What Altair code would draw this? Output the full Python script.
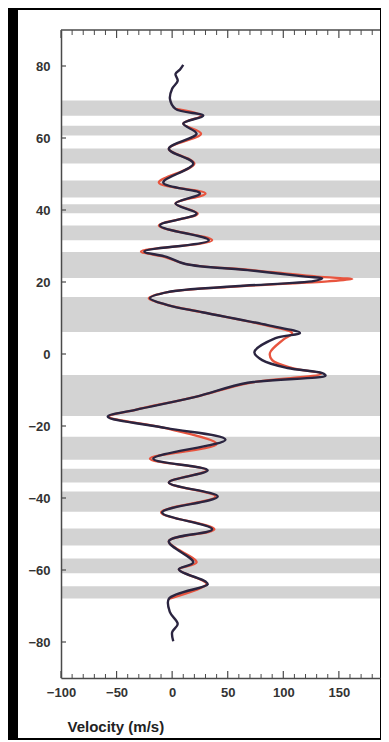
import altair as alt
import pandas as pd

# ---- data ----
lat_black = [80.3, 79.0, 77.8, 75.9, 73.7, 70.9, 68.1, 66.2, 64.0, 61.2, 57.0, 52.9,
             47.6, 44.6, 41.8, 39.0, 35.7, 31.6, 28.5, 27.0, 25.0, 23.3, 21.5, 21.0,
             20.3, 18.8, 17.2, 15.5, 13.6, 11.6, 8.0, 5.8, 4.4, 0.5, -1.7, -3.9, -5.3,
             -6.0, -8.0, -11.9, -15.5, -17.4, -20.6, -23.8, -29.1, -32.3, -35.7, -39.6,
             -44.0, -48.7, -52.0, -57.9, -59.8, -63.2, -64.0, -68.0, -71.7, -75.0,
             -77.3, -79.8]
vel_black = [10, 7, 3, 5, 0, -2, 3, 28, 10, 22, -3, 19,
             -8, 25, 3, 22, -11, 33, -25, -5, 12, 68, 120, 135,
             128, 57, -4, -20, -4, 27, 86, 115, 93, 74, 81, 104, 135,
             138, 68, 21, -33, -58, -5, 48, -17, 32, -3, 41,
             -9, 36, -3, 19, 6, 30, 32, -3, -2, 5,
             0, 1]

lat_red = [68.1, 66.2, 64.0, 61.2, 57.0, 52.9, 47.6, 44.6, 41.8, 39.0, 35.7, 31.6, 28.5,
           27.0, 25.0, 23.3, 21.5, 20.8, 20.2, 18.8, 17.2, 15.5, 13.6, 11.6, 8.0,
           5.8, 4.0, 0.3, -1.7, -3.9, -5.5, -8.0, -11.9, -15.5, -17.4, -20.6, -25.0,
           -29.1, -32.3, -35.7, -39.6, -44.0, -48.7, -52.0, -57.9, -59.8, -63.2, -64.0,
           -68.0]
vel_red = [3, 26, 10, 26, -3, 20, -12, 30, 3, 23, -12, 36, -28,
           -7, 12, 72, 130, 162, 140, 60, -4, -21, -4, 27, 84,
           108, 100, 88, 90, 108, 134, 70, 21, -33, -57, -6, 40,
           -20, 31, -3, 39, -10, 38, -3, 22, 6, 29, 31, -3]

band_lo = [66.2, 60.7, 52.9, 43.5, 39.1, 31.6, 21.1, 6.1, -17.2, -29.4, -35.7,
           -43.8, -53.2, -60.9, -67.9]
band_hi = [70.4, 63.4, 57.1, 48.2, 41.6, 35.7, 28.3, 15.8, -5.8, -23.0, -31.9,
           -38.2, -48.5, -56.8, -64.5]

x_major = [-100, -50, 0, 50, 100, 150]
x_minor = [-90, -80, -70, -60, -40, -30, -20, -10, 10, 20, 30, 40, 60, 70, 80, 90,
           110, 120, 130, 140, 160, 170, 180]
y_major = [-80, -60, -40, -20, 0, 20, 40, 60, 80]

# ---- layout ----
W, H = 319, 648
FONT = "Liberation Sans"
AX = "#4a4a4a"

xscale = alt.Scale(domain=[-100, 187], nice=False, zero=False)
yscale = alt.Scale(domain=[-90, 90], nice=False, zero=False)

xaxis = alt.Axis(values=x_major, format="d", ticks=False, grid=False, zindex=2,
                 domainColor=AX, domainWidth=1.5, labelFlush=False, labelOverlap=False,
                 labelFont=FONT, labelFontWeight="bold", labelFontSize=13,
                 labelColor="#333333", labelPadding=8,
                 title="Velocity (m/s)", titleFont=FONT, titleFontSize=15,
                 titleFontWeight="bold", titleColor="#222222", titleAlign="left",
                 titleX=6, titleY=48, titleBaseline="middle")
yaxis = alt.Axis(values=y_major, format="d", ticks=False, grid=False, zindex=2,
                 domainColor=AX, domainWidth=1.5, labelFlush=False, labelOverlap=False,
                 labelFont=FONT, labelFontWeight="bold", labelFontSize=13,
                 labelColor="#333333", labelPadding=11, title=None)

one = pd.DataFrame({"a": [0]})
panel = alt.Chart(one).mark_rect(color="white", clip=False).encode(
    x=alt.value(-43), x2=alt.value(W), y=alt.value(-20), y2=alt.value(708))

bands_df = pd.DataFrame({"lo": band_lo, "hi": band_hi})
bands = alt.Chart(bands_df).mark_rect(color="#d3d3d3").encode(
    y=alt.Y("lo:Q", scale=yscale, axis=yaxis), y2="hi:Q",
    x=alt.value(0), x2=alt.value(W))

red_df = pd.DataFrame({"lat": lat_red, "v": vel_red})
red = alt.Chart(red_df).mark_line(color="#e8553f", strokeWidth=2.3,
                                   interpolate="catmull-rom").encode(
    x=alt.X("v:Q", scale=xscale, axis=xaxis),
    y=alt.Y("lat:Q", scale=yscale), order="lat:Q")

blk_df = pd.DataFrame({"lat": lat_black, "v": vel_black})
blk = alt.Chart(blk_df).mark_line(color="#2b2540", strokeWidth=2.4,
                                   interpolate="catmull-rom").encode(
    x=alt.X("v:Q", scale=xscale), y=alt.Y("lat:Q", scale=yscale), order="lat:Q")

maj_df = pd.DataFrame({"t": x_major})
min_df = pd.DataFrame({"t": x_minor})
tick_b_maj = alt.Chart(maj_df).mark_rule(color=AX, strokeWidth=1.2).encode(
    x=alt.X("t:Q", scale=xscale), y=alt.value(H), y2=alt.value(H - 7))
tick_b_min = alt.Chart(min_df).mark_rule(color=AX, strokeWidth=1).encode(
    x=alt.X("t:Q", scale=xscale), y=alt.value(H), y2=alt.value(H - 4))
tick_t_maj = alt.Chart(maj_df).mark_rule(color=AX, strokeWidth=1.2).encode(
    x=alt.X("t:Q", scale=xscale), y=alt.value(0), y2=alt.value(8))
tick_t_min = alt.Chart(min_df).mark_rule(color=AX, strokeWidth=1).encode(
    x=alt.X("t:Q", scale=xscale), y=alt.value(0), y2=alt.value(5))
top_line = alt.Chart(one).mark_rule(color=AX, strokeWidth=1.5).encode(
    x=alt.value(0), x2=alt.value(W), y=alt.value(0))
ytick_df = pd.DataFrame({"t": y_major})
tick_y = alt.Chart(ytick_df).mark_rule(color=AX, strokeWidth=1.2).encode(
    y=alt.Y("t:Q", scale=yscale), x=alt.value(0), x2=alt.value(5))

chart = alt.layer(panel, bands, red, blk, tick_b_maj, tick_b_min, tick_t_maj,
                  tick_t_min, top_line, tick_y).properties(
    width=W, height=H,
    autosize=alt.AutoSizeParams(type="none"),
    padding={"left": 53, "top": 22, "right": 1, "bottom": 62},
).configure(background="black").configure_view(strokeWidth=0)

chart.save("out.html", embed_options={"renderer": "svg", "actions": False})
